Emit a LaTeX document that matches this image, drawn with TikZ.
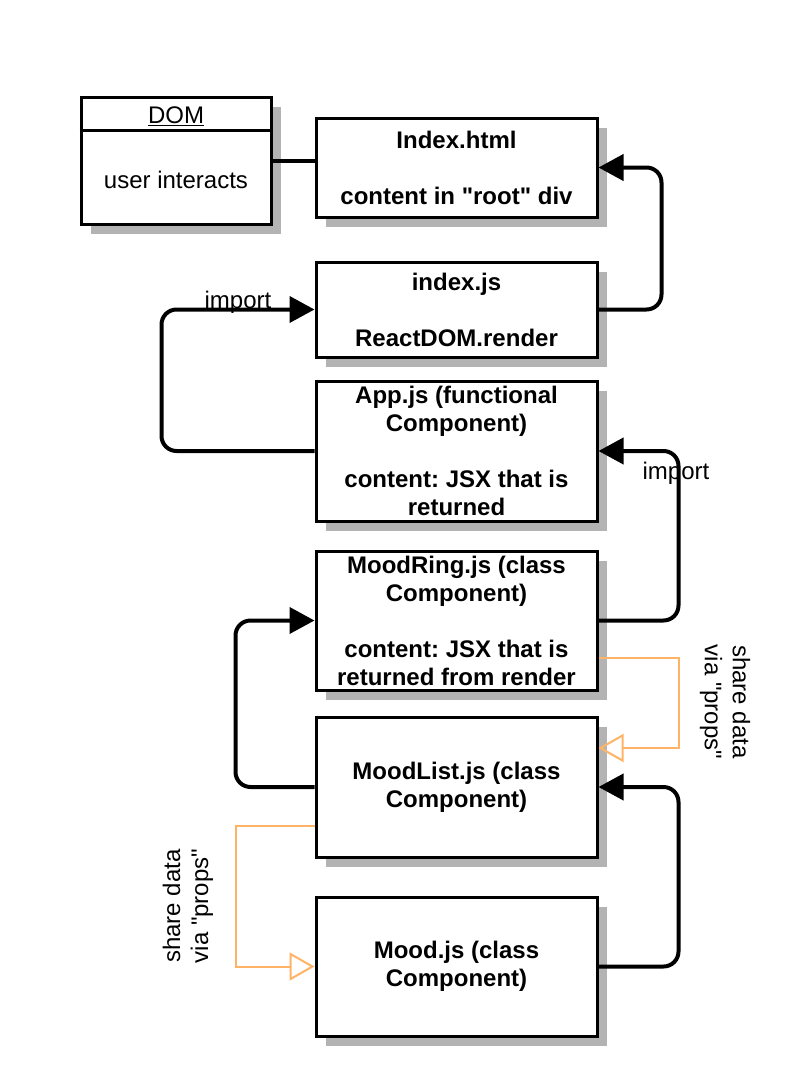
\documentclass[tikz,border=0pt]{standalone}
\usepackage{fontspec}
\setmainfont{Liberation Sans}
\usetikzlibrary{arrows.meta, positioning, shadows}
\definecolor{ink}{HTML}{000000}
\definecolor{shade}{HTML}{B3B3B3}
\definecolor{propsline}{HTML}{FFB366}
\newcommand{\qt}{\textquotedbl}
\frenchspacing

\tikzset{
  box/.style={draw=ink, line width=3pt, fill=white, minimum width=281pt, inner sep=0pt,
    align=center, font=\fontsize{24}{28}\selectfont\bfseries,
    drop shadow={shadow xshift=10pt, shadow yshift=-10pt, fill=shade, opacity=1}},
  conn/.style={draw=ink, line width=4pt, rounded corners=15pt, -{Triangle[length=25pt,width=26pt]}},
  props/.style={draw=propsline, line width=2pt, -{Triangle[open,length=25pt,width=28pt]}},
  lbl/.style={inner sep=0pt, align=center}
}

\begin{document}
\begin{tikzpicture}[x=1pt,y=-1pt, every node/.style={font=\fontsize{24}{28}\selectfont}]
\useasboundingbox (0,0) rectangle (808,1092);

% DOM box
\node[box, minimum width=190pt, minimum height=127pt] (dom) at (176,160.5) {};
\draw[ink, line width=3pt] ([yshift=-35pt]dom.north west) -- ([yshift=-35pt]dom.north east);
\node[lbl] (domtitle) at (176,116) {\underline{DOM}};
\node[lbl] (domtext) at (176,180) {user interacts};

% component boxes
\node[box, minimum height=99pt] (html) at (456.5,167.5) {Index.html\\[28pt]content in \qt root\qt{} div};
\node[box, minimum height=95pt] (indexjs) at (456.5,309.5) {index.js\\[28pt]ReactDOM.render};
\node[box, minimum height=140pt] (app) at (456.5,451) {App.js (functional\\Component)\\[28pt]content: JSX that is\\returned};
\node[box, minimum height=139pt] (ring) at (456.5,620.5) {MoodRing.js (class\\Component)\\[28pt]content: JSX that is\\returned from render};
\node[box, minimum height=140pt] (list) at (456.5,787) {MoodList.js (class\\Component)};
\node[box, minimum height=139pt] (mood) at (456.5,966.5) {Mood.js (class\\Component)};

% connectors
\draw[ink, line width=4pt] (dom.east) -- (dom.east -| html.west);
\draw[conn] (indexjs.east) -- ++(63,0) |- (html.east);
\draw[conn] (app.west) -- ++(-153,0) |- (indexjs.west);
\draw[conn] (ring.east) -- ++(80,0) |- (app.east);
\draw[conn] (list.west) -- ++(-79,0) |- (ring.west);
\draw[conn] (mood.east) -- ++(80,0) |- (list.east);
\node[lbl] (import1) at (238,302) {import};
\node[lbl] (import2) at (676,473) {import};

% props
\draw[props] ([yshift=-37.5pt]ring.east) -- ++(80,0) |- ([yshift=39pt]list.east);
\draw[props] ([yshift=-39pt]list.west) -- ++(-79,0) |- (mood.west);
\node[lbl, rotate=-90] (share1) at (725,702) {share data\\via \qt props\qt};
\node[lbl, rotate=90] (share2) at (188,906) {share data\\via \qt props\qt};
\end{tikzpicture}
\end{document}
